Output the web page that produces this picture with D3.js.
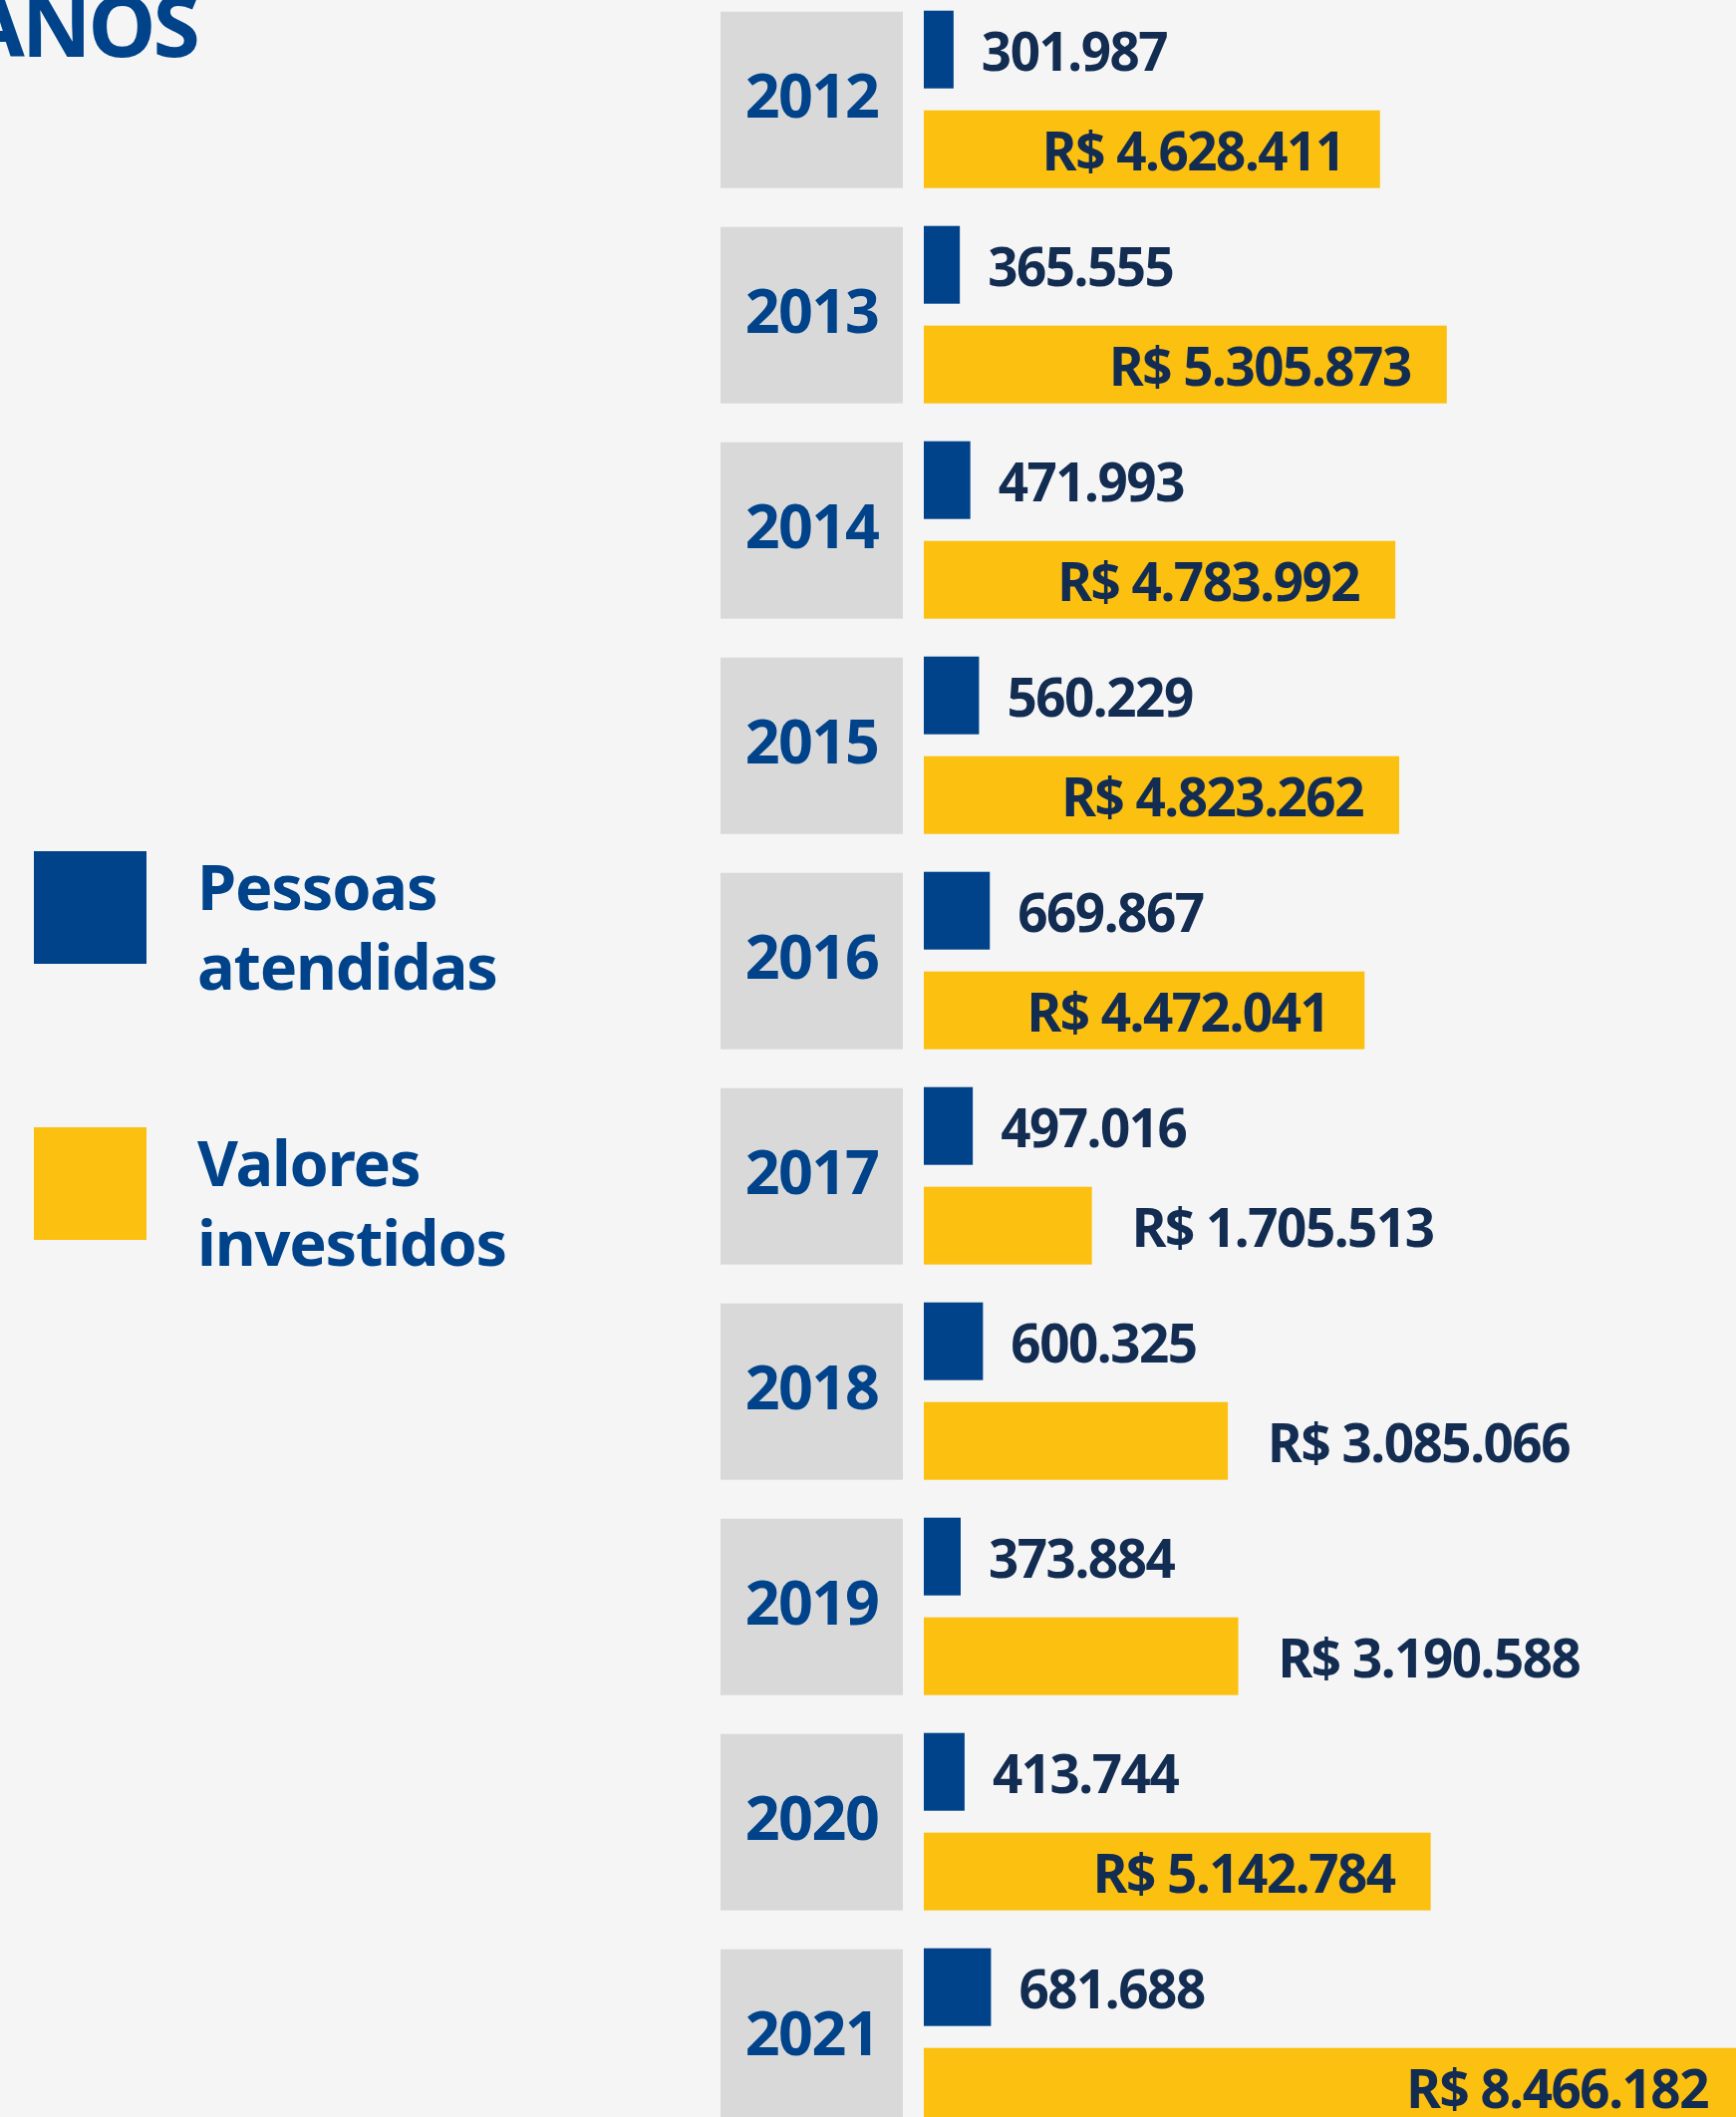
<!DOCTYPE html>
<html>
<head>
<meta charset="utf-8">
<script src="https://cdn.jsdelivr.net/npm/d3@7"></script>
<style>
  html, body { margin: 0; padding: 0; background: #f5f5f5; }
  svg { display: block; font-family: "Noto Sans", "Open Sans", sans-serif; font-weight: 700; }
</style>
</head>
<body>
<svg id="chart" width="1742" height="2124"></svg>
<script>
const years = ["2012", "2013", "2014", "2015", "2016", "2017", "2018", "2019", "2020", "2021"];
const pessoas = [301987, 365555, 471993, 560229, 669867, 497016, 600325, 373884, 413744, 681688];
const valores = [4628411, 5305873, 4783992, 4823262, 4472041, 1705513, 3085066, 3190588, 5142784, 8466182];
const seriesKeys = ["pessoas", "valores"];
const legendLabels = [["Pessoas", "atendidas"], ["Valores", "investidos"]];

const width = 1742;
const height = 2124;
const blue = "#00438a";
const yellow = "#fcc010";
const gray = "#d9d9d9";
const labelColor = "#132c51";

const loc = d3.formatLocale({ decimal: ",", thousands: ".", grouping: [3], currency: ["R$ ", ""] });
const fmtNum = loc.format(",.0f");
const fmtMoney = loc.format("$,.0f");

const svg = d3.select("#chart");
svg.append("rect").attr("width", width).attr("height", height).attr("fill", "#f5f5f5");

// one horizontal scale shared by both series
const x = d3.scaleLinear().domain([0, 10000000]).range([927, 927 + 989]);

// row bands, one per year
const y = d3.scaleBand().domain(years).range([11.7, 11.7 + 216 * (10 - 0.1806)]).paddingInner(0.1806);
const ySub = d3.scaleBand().domain(seriesKeys).range([0, y.bandwidth()]).paddingInner(0.212);

const rows = years.map((year, i) => ({ year, pessoas: pessoas[i], valores: valores[i] }));

// title fragment, cut by the left edge
svg.append("text")
  .attr("x", 198)
  .attr("y", 57)
  .attr("text-anchor", "end")
  .attr("fill", blue)
  .attr("font-size", 86)
  .attr("letter-spacing", -3)
  .text("ANOS");

const row = svg.selectAll("g.row")
  .data(rows)
  .join("g")
  .attr("class", "row")
  .attr("transform", (d) => `translate(0,${y(d.year)})`);

row.append("rect")
  .attr("x", 723)
  .attr("width", 183)
  .attr("height", y.bandwidth())
  .attr("fill", gray);

row.append("text")
  .attr("x", 814.5)
  .attr("y", 106.5)
  .attr("text-anchor", "middle")
  .attr("fill", blue)
  .attr("font-size", 61)
  .attr("letter-spacing", -1.5)
  .text((d) => d.year);

// pessoas atendidas
row.append("rect")
  .attr("x", x(0))
  .attr("y", ySub("pessoas") - 1)
  .attr("width", (d) => x(d.pessoas) - x(0))
  .attr("height", ySub.bandwidth())
  .attr("fill", blue);

row.append("text")
  .attr("x", (d) => x(d.pessoas) + 28)
  .attr("y", ySub("pessoas") + ySub.bandwidth() / 2 + 20)
  .attr("fill", labelColor)
  .attr("font-size", 53)
  .attr("letter-spacing", -1.5)
  .text((d) => fmtNum(d.pessoas));

// valores investidos
row.append("rect")
  .attr("x", x(0))
  .attr("y", ySub("valores"))
  .attr("width", (d) => x(d.valores) - x(0))
  .attr("height", ySub.bandwidth())
  .attr("fill", yellow);

row.append("text")
  .attr("y", ySub("valores") + ySub.bandwidth() / 2 + 21)
  .attr("fill", labelColor)
  .attr("font-size", 53)
  .attr("letter-spacing", -1.5)
  .text((d) => fmtMoney(d.valores))
  .each(function (d) {
    const t = d3.select(this);
    const tw = this.getComputedTextLength();
    const barW = x(d.valores) - x(0);
    if (barW > tw + 70) {
      t.attr("text-anchor", "end").attr("x", Math.min(x(d.valores) - 36, width - 28));
    } else {
      t.attr("text-anchor", "start").attr("x", x(d.valores) + 40);
    }
  });

// legend
const legend = svg.selectAll("g.legend")
  .data(seriesKeys)
  .join("g")
  .attr("class", "legend")
  .attr("transform", (d, i) => `translate(0,${854 + i * 277})`);

legend.append("rect")
  .attr("x", 34)
  .attr("width", 113)
  .attr("height", 113)
  .attr("fill", (d) => (d === "pessoas" ? blue : yellow));

legend.each(function (d, i) {
  const g = d3.select(this);
  legendLabels[i].forEach((line, j) => {
    g.append("text")
      .attr("x", 198)
      .attr("y", 59 + j * 80)
      .attr("fill", blue)
      .attr("font-size", 63)
      .attr("letter-spacing", -1.2)
      .text(line);
  });
});
</script>
</body>
</html>
